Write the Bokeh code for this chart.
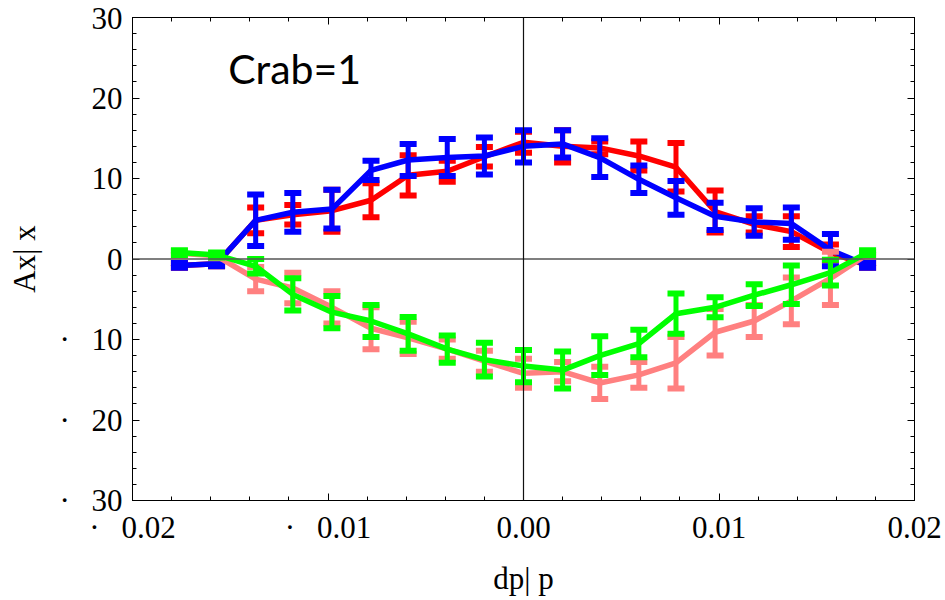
from bokeh.plotting import figure
from bokeh.models import Span, Label, LinearAxis, FixedTicker, CustomJSTickFormatter, ColumnDataSource
from bokeh.embed import file_html
from bokeh.resources import INLINE
import numpy as np

# ---- data ----
dp = [-0.0176, -0.0157, -0.0137, -0.0118, -0.0098, -0.0078, -0.0059, -0.0039, -0.0020, 0.0,
      0.0020, 0.0039, 0.0059, 0.0078, 0.0098, 0.0118, 0.0137, 0.0157, 0.0176]

red_y   = [-0.8, -0.6, 4.8, 5.5, 6.0, 7.3, 10.4, 10.9, 12.7, 14.5, 14.0, 13.8, 12.8, 11.4, 5.9, 4.3, 3.4, 0.8, -0.8]
red_err = [0.3, 0.3, 1.6, 1.2, 2.6, 2.1, 2.5, 1.3, 1.2, 1.3, 2.0, 0.8, 1.8, 3.0, 2.6, 1.0, 1.9, 1.0, 0.3]

blue_y   = [-0.8, -0.6, 4.8, 5.8, 6.2, 11.0, 12.3, 12.6, 12.8, 14.0, 14.3, 12.6, 9.9, 7.6, 5.3, 4.6, 4.4, 1.1, -0.8]
blue_err = [0.3, 0.3, 3.2, 2.4, 2.4, 1.2, 2.0, 2.3, 2.3, 2.0, 1.7, 2.4, 1.7, 2.1, 1.7, 1.7, 2.0, 2.0, 0.3]

pink_y   = [0.7, 0.4, -2.5, -3.6, -6.0, -8.6, -9.8, -11.2, -12.7, -14.2, -14.0, -15.4, -14.4, -12.9, -9.1, -7.7, -5.2, -2.4, 0.6]
pink_err = [0.3, 0.3, 1.5, 1.9, 2.0, 2.6, 2.0, 1.2, 1.3, 1.8, 1.2, 2.0, 1.6, 3.2, 2.9, 2.0, 2.9, 3.3, 0.3]

green_y   = [0.8, 0.5, -0.9, -4.4, -6.6, -7.7, -9.3, -11.2, -12.5, -13.3, -13.8, -12.0, -10.5, -6.8, -6.0, -4.5, -3.2, -1.7, 0.8]
green_err = [0.3, 0.3, 0.9, 2.0, 2.0, 2.0, 2.1, 1.7, 2.1, 2.0, 2.3, 2.4, 1.7, 2.5, 1.25, 1.35, 2.4, 1.6, 0.3]

x_ticks = [-0.02, -0.01, 0.0, 0.01, 0.02]
x_tick_labels = ["\u00b7\u00a0\u00a0\u20090.02", "\u00b7\u00a0\u00a0\u20090.01", "0.00", "0.01", "0.02"]
y_ticks = [-30, -20, -10, 0, 10, 20, 30]
y_tick_labels = ["\u00b7\u00a0\u00a0\u200930", "\u00b7\u00a0\u00a0\u200920", "\u00b7\u00a0\u00a0\u200910", "0", "10", "20", "30"]
x_minor = [round(v, 4) for v in np.arange(-0.02, 0.0201, 0.002)]
y_minor = list(range(-30, 31, 2))

x_title = "dp| p"
y_title = "Ax| x"
note = "Crab=1"

series = [
    ("#ff0000", red_y, red_err),
    ("#0000ff", blue_y, blue_err),
    ("#ff8080", pink_y, pink_err),
    ("#00ff00", green_y, green_err),
]

SERIF = "Liberation Serif"

p = figure(width=945, height=600, x_range=(-0.02, 0.02), y_range=(-30, 30),
           output_backend="svg", toolbar_location=None,
           min_border_left=132, min_border_right=31, min_border_top=17, min_border_bottom=100,
           background_fill_color="white", border_fill_color="white")
p.xgrid.visible = False
p.ygrid.visible = False
p.outline_line_color = "black"
p.outline_line_width = 1

# zero axes lines
p.add_layout(Span(location=0, dimension="width", line_color="#555555", line_width=1.6))
p.add_layout(Span(location=0, dimension="height", line_color="#111111", line_width=1.2))

for color, ys, errs in series:
    src = ColumnDataSource(dict(
        x=dp, y=ys,
        lo=[a - e for a, e in zip(ys, errs)],
        hi=[a + e for a, e in zip(ys, errs)],
    ))
    p.line("x", "y", source=src, line_color=color, line_width=5.5)
    p.segment(x0="x", y0="lo", x1="x", y1="hi", source=src, line_color=color, line_width=5)
    p.rect(x="x", y="hi", width=17, height=6, width_units="screen", height_units="screen",
           source=src, fill_color=color, line_color=None)
    p.rect(x="x", y="lo", width=17, height=6, width_units="screen", height_units="screen",
           source=src, fill_color=color, line_color=None)

LOOKUP = """
    for (let i = 0; i < vals.length; i++) { if (Math.abs(vals[i] - tick) < 1e-9) return labs[i]; }
    return '';
"""
x_fmt = CustomJSTickFormatter(args=dict(vals=x_ticks, labs=x_tick_labels), code=LOOKUP)
y_fmt = CustomJSTickFormatter(args=dict(vals=y_ticks, labs=y_tick_labels), code=LOOKUP)
blank_fmt = CustomJSTickFormatter(code="return '';")

def style(ax, ticks, minor):
    ax.ticker = FixedTicker(ticks=ticks, minor_ticks=minor)
    ax.axis_line_color = "black"
    ax.major_tick_line_color = "black"
    ax.minor_tick_line_color = "black"
    ax.major_tick_in = 7
    ax.major_tick_out = 0
    ax.minor_tick_in = 4
    ax.minor_tick_out = 0
    ax.major_label_text_font = SERIF
    ax.major_label_text_font_size = "31px"
    ax.major_label_text_color = "black"
    ax.axis_label_text_font = SERIF
    ax.axis_label_text_font_size = "31px"
    ax.axis_label_text_font_style = "normal"
    ax.axis_label_text_color = "black"

xa = p.xaxis[0]
style(xa, x_ticks, x_minor)
xa.formatter = x_fmt
xa.major_label_standoff = 9
xa.axis_label = x_title
xa.axis_label_standoff = 13

ya = p.yaxis[0]
style(ya, y_ticks, y_minor)
ya.formatter = y_fmt
ya.major_label_standoff = 10
ya.axis_label = y_title
ya.axis_label_standoff = 14

top = LinearAxis(formatter=blank_fmt)
style(top, x_ticks, x_minor)
top.major_label_standoff = 0
p.add_layout(top, "above")

right = LinearAxis(formatter=blank_fmt)
style(right, y_ticks, y_minor)
right.major_label_standoff = 0
p.add_layout(right, "right")

p.add_layout(Label(x=-0.0151, y=23.7, text=note, text_font="Lato",
                   text_font_size="41px", text_color="black", text_baseline="alphabetic"))

open("out.html", "w").write(file_html(p, INLINE))
